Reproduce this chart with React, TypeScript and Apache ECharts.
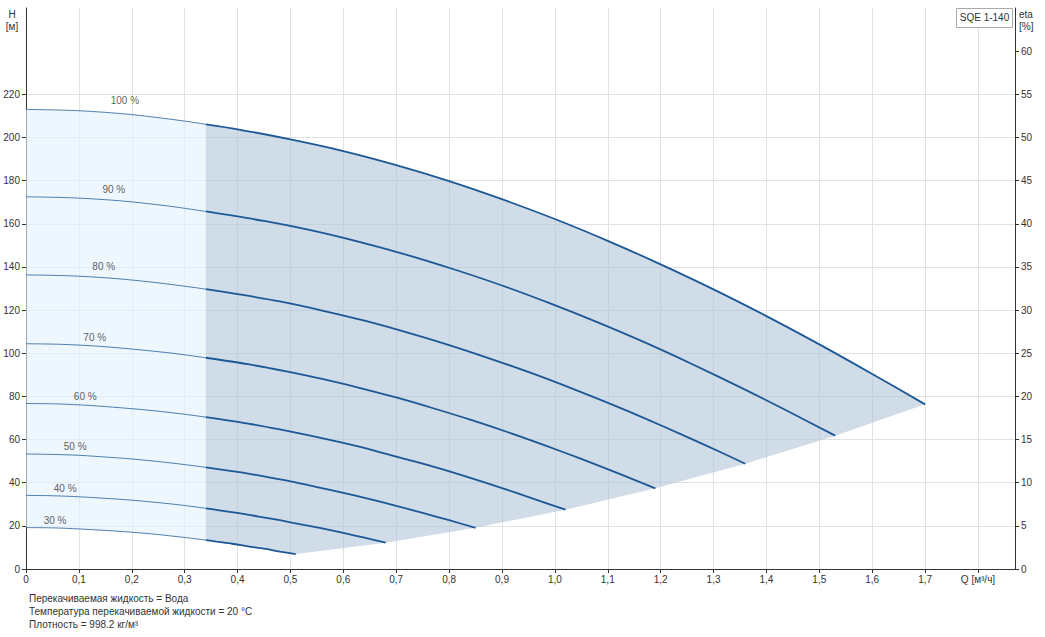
import React, { useEffect, useRef } from "react";
import * as echarts from "echarts";

// Curve labels (speed %)
const speedLabels = ["100 %", "90 %", "80 %", "70 %", "60 %", "50 %", "40 %", "30 %"];
// Label anchor points [Q, H]
const labelPoints: number[][] = [
  [0.187, 216.9], [0.166, 176.1], [0.147, 140.0], [0.13, 107.5],
  [0.112, 80.1], [0.093, 56.9], [0.074, 37.5], [0.055, 22.7],
];

// Q-H curves, thin part (Q 0 .. 0.34) and thick part (Q 0.34 .. end)
const c100Thin = [[0, 213], [0.1, 212.4], [0.2, 210.6], [0.3, 207.6], [0.34, 206.1]];
const c100Thick = [[0.34, 206.1], [0.4, 203.8], [0.5, 199.1], [0.6, 193.7], [0.7, 187.2], [0.8, 179.8], [0.9, 171.4], [1.0, 162.2], [1.1, 152.1], [1.2, 141.2], [1.3, 129.6], [1.4, 117.2], [1.5, 104.1], [1.6, 90.4], [1.7, 76.3]];
const c90Thin = [[0, 172.5], [0.09, 172.0], [0.18, 170.6], [0.27, 168.2], [0.34, 165.7]];
const c90Thick = [[0.34, 165.7], [0.45, 161.3], [0.54, 156.9], [0.63, 151.6], [0.72, 145.6], [0.81, 138.8], [0.9, 131.4], [0.99, 123.2], [1.08, 114.4], [1.17, 105.0], [1.26, 94.9], [1.35, 84.3], [1.44, 73.2], [1.53, 61.8]];
const c80Thin = [[0, 136.3], [0.08, 135.9], [0.16, 134.8], [0.24, 132.9], [0.32, 130.4], [0.34, 129.7]];
const c80Thick = [[0.34, 129.7], [0.4, 127.4], [0.48, 124.0], [0.56, 119.8], [0.64, 115.1], [0.72, 109.7], [0.8, 103.8], [0.88, 97.3], [0.96, 90.4], [1.04, 82.9], [1.12, 75.0], [1.2, 66.6], [1.28, 57.9], [1.36, 48.8]];
const c70Thin = [[0, 104.4], [0.07, 104.1], [0.14, 103.2], [0.21, 101.7], [0.28, 99.9], [0.34, 97.9]];
const c70Thick = [[0.34, 97.9], [0.42, 94.9], [0.49, 91.7], [0.56, 88.1], [0.63, 84.0], [0.7, 79.5], [0.77, 74.5], [0.84, 69.2], [0.91, 63.5], [0.98, 57.4], [1.05, 51.0], [1.12, 44.3], [1.19, 37.4]];
const c60Thin = [[0, 76.7], [0.06, 76.5], [0.12, 75.8], [0.18, 74.7], [0.24, 73.4], [0.3, 71.7], [0.34, 70.4]];
const c60Thick = [[0.34, 70.4], [0.42, 67.4], [0.48, 64.7], [0.54, 61.7], [0.6, 58.4], [0.66, 54.8], [0.72, 50.8], [0.78, 46.7], [0.84, 42.2], [0.9, 37.5], [0.96, 32.5], [1.02, 27.5]];
const c50Thin = [[0, 53.3], [0.05, 53.1], [0.1, 52.7], [0.15, 51.9], [0.2, 51.0], [0.25, 49.8], [0.3, 48.4], [0.34, 47.1]];
const c50Thick = [[0.34, 47.1], [0.4, 45.0], [0.45, 42.9], [0.5, 40.6], [0.55, 38.0], [0.6, 35.3], [0.65, 32.4], [0.7, 29.3], [0.75, 26.0], [0.8, 22.6], [0.85, 19.1]];
const c40Thin = [[0, 34.1], [0.04, 34.0], [0.08, 33.7], [0.12, 33.2], [0.16, 32.6], [0.2, 31.9], [0.24, 31.0], [0.28, 30.0], [0.32, 28.8], [0.34, 28.1]];
const c40Thick = [[0.34, 28.1], [0.36, 27.4], [0.4, 26.0], [0.44, 24.3], [0.48, 22.6], [0.52, 20.7], [0.56, 18.8], [0.6, 16.7], [0.64, 14.5], [0.68, 12.2]];
const c30Thin = [[0, 19.2], [0.06, 19.0], [0.12, 18.3], [0.18, 17.4], [0.24, 16.2], [0.3, 14.6], [0.34, 13.4]];
const c30Thick = [[0.34, 13.4], [0.36, 12.7], [0.39, 11.7], [0.42, 10.5], [0.45, 9.4], [0.48, 8.1], [0.51, 6.9]];

const thinCurves = [c100Thin, c90Thin, c80Thin, c70Thin, c60Thin, c50Thin, c40Thin, c30Thin];
const thickCurves = [c100Thick, c90Thick, c80Thick, c70Thick, c60Thick, c50Thick, c40Thick, c30Thick];

// Axis tick values
const qTicks = [0, 0.1, 0.2, 0.3, 0.4, 0.5, 0.6, 0.7, 0.8, 0.9, 1.0, 1.1, 1.2, 1.3, 1.4, 1.5, 1.6, 1.7, 1.8];
const hTicks = [0, 20, 40, 60, 80, 100, 120, 140, 160, 180, 200, 220];
const etaTicks = [0, 5, 10, 15, 20, 25, 30, 35, 40, 45, 50, 55, 60];

const notes = [
  "Перекачиваемая жидкость = Вода",
  "Температура перекачиваемой жидкости = 20 °C",
  "Плотность = 998.2 кг/м³",
];

const LINE = "#1c5896";
const FONT = "Liberation Sans, Arial, sans-serif";
const TXT = "#333";

export default function App() {
  const ref = useRef<HTMLDivElement>(null);
  useEffect(() => {
    if (!ref.current) return;
    const chart = echarts.init(ref.current, undefined, { renderer: "svg" });

    const lightPoly = [...c100Thin, ...[...c30Thin].reverse()];
    const endPoints = thickCurves.slice(1, 7).map((c) => c[c.length - 1]);
    const darkPoly = [...c100Thick, ...endPoints, ...[...c30Thick].reverse()];

    const series: any[] = [
      {
        type: "custom",
        xAxisIndex: 0,
        yAxisIndex: 0,
        silent: true,
        z: 1,
        data: [0],
        renderItem: (_p: any, api: any) => ({
          type: "group",
          children: [
            {
              type: "polygon",
              shape: { points: lightPoly.map((p) => api.coord(p)) },
              style: { fill: "rgba(227,240,253,0.62)", stroke: "none" },
            },
            {
              type: "polygon",
              shape: { points: darkPoly.map((p) => api.coord(p)) },
              style: { fill: "rgba(177,197,217,0.6)", stroke: "none" },
            },
          ],
        }),
      },
    ];
    thinCurves.forEach((c) => {
      series.push({
        type: "line",
        data: c,
        symbol: "none",
        smooth: 0.3,
        z: 3,
        lineStyle: { color: LINE, width: 0.9, opacity: 0.85 },
      });
    });
    thickCurves.forEach((c) => {
      series.push({
        type: "line",
        data: c,
        symbol: "none",
        smooth: 0.3,
        z: 4,
        lineStyle: { color: LINE, width: 1.8 },
      });
    });
    series.push({
      type: "scatter",
      data: labelPoints.map((p, i) => ({ value: p, name: speedLabels[i] })),
      symbolSize: 1,
      itemStyle: { color: "rgba(0,0,0,0)" },
      silent: true,
      z: 5,
      label: {
        show: true,
        position: "inside",
        formatter: (p: any) => p.name,
        fontSize: 10,
        fontFamily: FONT,
        color: TXT,
      },
    });

    const graphicTexts = [
      { x: 12, y: 14, text: "H", align: "center" },
      { x: 12, y: 26, text: "[м]", align: "center" },
      { x: 1019, y: 14, text: "eta", align: "left" },
      { x: 1019, y: 26, text: "[%]", align: "left" },
    ].map((t) => ({
      type: "text",
      x: t.x,
      y: t.y,
      style: { text: t.text, align: t.align, verticalAlign: "middle", fontSize: 10, fontFamily: FONT, fill: TXT },
    }));

    const noteTexts = notes.map((n, i) => ({
      type: "text",
      x: 29,
      y: 598 + i * 13,
      style: { text: n, align: "left", verticalAlign: "middle", fontSize: 10, fontFamily: FONT, fill: TXT },
    }));

    chart.setOption({
      animation: false,
      backgroundColor: "#fff",
      grid: { left: 26, right: 30, top: 8, bottom: 68, containLabel: false },
      xAxis: {
        type: "value",
        min: 0,
        max: 1.87,
        interval: 0.1,
        axisLine: { show: true, lineStyle: { color: "#333", width: 1 } },
        axisTick: { show: true, length: 4, customValues: qTicks, lineStyle: { color: "#333" } },
        axisLabel: {
          customValues: qTicks,
          margin: 5,
          fontSize: 10,
          fontFamily: FONT,
          color: TXT,
          formatter: (v: number) =>
            v > 1.75 ? "Q [м³/ч]" : v === 0 ? "0" : v.toFixed(1).replace(".", ","),
        },
        splitLine: { show: true, lineStyle: { color: "#e2e2e2", width: 1 } },
      },
      yAxis: [
        {
          type: "value",
          min: 0,
          max: 260,
          interval: 20,
          position: "left",
          axisLine: { show: true, lineStyle: { color: "#333", width: 1 } },
          axisTick: { show: true, length: 4, customValues: hTicks, lineStyle: { color: "#333" } },
          axisLabel: { customValues: hTicks, margin: 6, fontSize: 10, fontFamily: FONT, color: TXT },
          splitLine: { show: true, lineStyle: { color: "#e2e2e2", width: 1 } },
        },
        {
          type: "value",
          min: 0,
          max: 65,
          interval: 5,
          position: "right",
          axisLine: { show: true, lineStyle: { color: "#333", width: 1 } },
          axisTick: { show: true, length: 4, customValues: etaTicks, lineStyle: { color: "#333" } },
          axisLabel: { customValues: etaTicks, margin: 6, fontSize: 10, fontFamily: FONT, color: TXT },
          splitLine: { show: false },
        },
      ],
      graphic: [
        ...graphicTexts,
        ...noteTexts,
        {
          type: "rect",
          shape: { x: 956.5, y: 8.5, width: 56, height: 19 },
          style: { fill: "#fff", stroke: "#aaa", lineWidth: 1 },
          z: 10,
        },
        {
          type: "text",
          x: 984.5,
          y: 17,
          z: 11,
          style: { text: "SQE 1-140", align: "center", verticalAlign: "middle", fontSize: 10, fontFamily: FONT, fill: TXT },
        },
      ],
      series,
    });
    return () => chart.dispose();
  }, []);
  return <div ref={ref} style={{ position: "fixed", left: 0, top: 0, width: 1045, height: 637 }} />;
}
